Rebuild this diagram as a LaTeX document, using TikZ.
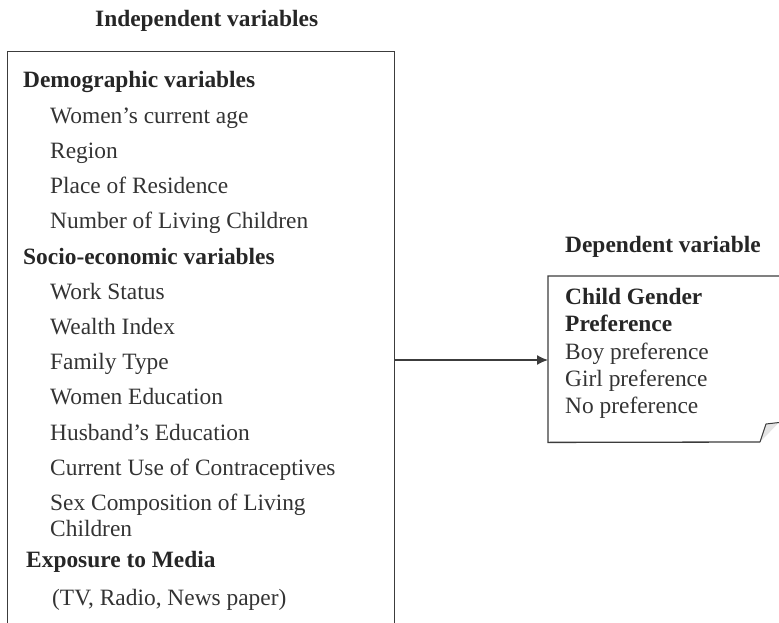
\documentclass[tikz,border=0pt]{standalone}
\usepackage{fontspec}
\setmainfont{Liberation Serif}
\usetikzlibrary{arrows.meta}
\definecolor{ink}{HTML}{333333}
\definecolor{inkbold}{HTML}{262626}
\definecolor{frame}{HTML}{3C3C3C}
\definecolor{curl}{HTML}{E4E4E4}
\tikzset{
  txt/.style={anchor=base west, inner sep=0pt, text=ink,
    font=\fontsize{23.4}{26}\selectfont},
  head/.style={txt, text=inkbold, font=\fontsize{23.4}{26}\selectfont\bfseries},
  frm/.style={draw=frame, line width=1.3pt},
  conn/.style={draw=frame, line width=1.3pt, -{Latex[length=11pt,width=10pt]}}
}
\begin{document}
\begin{tikzpicture}[x=1pt,y=-1pt]
\useasboundingbox (0,0) rectangle (779,623);

% titles above the two boxes
\node[head] (tInd) at (95,27) {Independent variables};
\node[head] (tDep) at (565,252) {Dependent variable};

% independent variables box (runs past the lower edge)
\node[frm, rectangle, anchor=north west, minimum width=387pt, minimum height=590pt,
      inner sep=0pt] (indep) at (7,51) {};

\node[head] (hDemo) at (23,88) {Demographic variables};
\node[txt] (vAge) at (50,123.2) {Women’s current age};
\node[txt] (vReg) at (50,158.4) {Region};
\node[txt] (vRes) at (50,193.6) {Place of Residence};
\node[txt] (vNum) at (50,228.8) {Number of Living Children};
\node[head] (hSoc) at (23,264) {Socio-economic variables};
\node[txt] (vWork) at (50,299.2) {Work Status};
\node[txt] (vWealth) at (50,334.4) {Wealth Index};
\node[txt] (vFam) at (50,369.6) {Family Type};
\node[txt] (vWEdu) at (50,404.8) {Women Education};
\node[txt] (vHEdu) at (50,440) {Husband’s Education};
\node[txt] (vCon) at (50,475.2) {Current Use of Contraceptives};
\node[txt] (vSex) at (50,510.4) {Sex Composition of Living};
\node[txt] (vSex2) at (50,536.6) {Children};
\node[head] (hMed) at (26,567) {Exposure to Media};
\node[txt] (vMed) at (52,605) {(TV, Radio, News paper)};

% dependent variable box (right side runs past the edge, corner curled)
\node[rectangle, anchor=north west, minimum width=252pt, minimum height=166pt,
      inner sep=0pt] (dep) at (548,276) {};
\draw[frm] (dep.north east) -- (dep.north west) -- (dep.south west) -- (760,442);
\fill[curl] (760,442) -- (766,424) -- (779,422.5) -- cycle;
\draw[draw=frame, line width=1pt, line join=round] (760,442) -- (766,424) -- (779,422.5);

\node[head] (dTitle1) at (565,304) {Child Gender};
\node[head] (dTitle2) at (565,331) {Preference};
\node[txt] (dBoy) at (565,359) {Boy preference};
\node[txt] (dGirl) at (565,386) {Girl preference};
\node[txt] (dNo) at (565,413) {No preference};

% link from the independent to the dependent variables
\coordinate (linkY) at (0,360);
\draw[conn] (indep.east |- linkY) -- (dep.west |- linkY);
\end{tikzpicture}
\end{document}
